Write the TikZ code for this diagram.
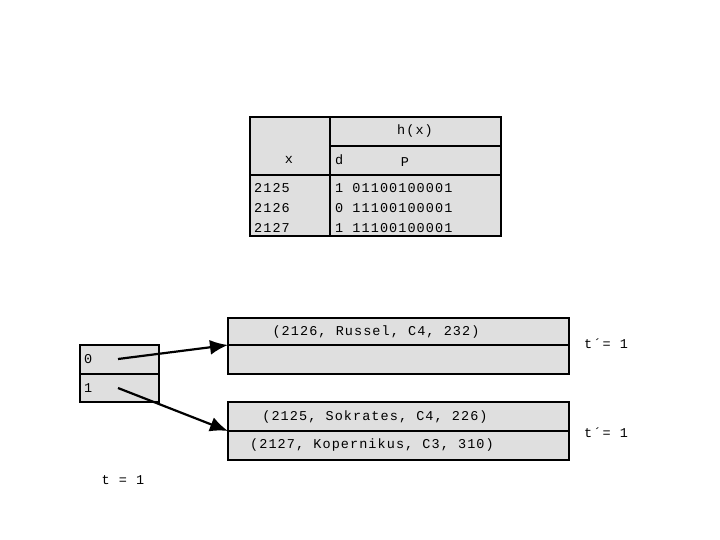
\documentclass[tikz,border=0pt]{standalone}
\usepackage{fontspec}
\newfontfamily\cour[LetterSpace=8]{Liberation Mono}
\usetikzlibrary{arrows.meta}
\begin{document}
\begin{tikzpicture}[x=1pt,y=-1pt,
  cell/.style={draw=black,line width=2.5pt,fill=gray!25},
  sep/.style={draw=black,line width=2.5pt},
  txt/.style={font=\cour\fontsize{13.5}{15}\selectfont,inner sep=0pt},
  ptr/.style={draw=black,line width=2.2pt,-{Latex[length=18pt,width=15pt]}}]
\useasboundingbox (0,0) rectangle (720,540);
% hash table
\path[cell] (250,117) rectangle (501,236);
\draw[sep] (330,117) -- (330,236);
\draw[sep] (330,146) -- (501,146);
\draw[sep] (250,175) -- (501,175);
\node[txt] (hx) at (415,131) {h(x)};
\node[txt] (xh) at (289,160) {x};
\node[txt,anchor=west] (dh) at (335,160) {d};
\node[txt] (ph) at (405,162) {P};
\node[txt,anchor=west] (k1) at (254,188) {2125};
\node[txt,anchor=west] (k2) at (254,208) {2126};
\node[txt,anchor=west] (k3) at (254,228) {2127};
\node[txt,anchor=west] (v1) at (335,188) {1 01100100001};
\node[txt,anchor=west] (v2) at (335,208) {0 11100100001};
\node[txt,anchor=west] (v3) at (335,228) {1 11100100001};
% directory
\path[cell] (80,345) rectangle (159,402);
\draw[sep] (80,374) -- (159,374);
\node[txt,anchor=west] (d0) at (84,359) {0};
\node[txt,anchor=west] (d1) at (84,388) {1};
\coordinate (p0) at (118,359);
\coordinate (p1) at (118,388);
% buckets
\path[cell] (228,318) rectangle (569,374);
\draw[sep] (228,345) -- (569,345);
\coordinate (b1) at (228,345);
\node[txt] (r1) at (376,332) {(2126, Russel, C4, 232)};
\path[cell] (228,402) rectangle (569,460);
\draw[sep] (228,431) -- (569,431);
\coordinate (b2) at (228,431);
\node[txt] (r2) at (375,417) {(2125, Sokrates, C4, 226)};
\node[txt] (r3) at (372,445) {(2127, Kopernikus, C3, 310)};
\node[txt,anchor=west] (t1) at (584,344) {t´= 1};
\node[txt,anchor=west] (t2) at (584,433) {t´= 1};
\node[txt] (t0) at (123,480) {t = 1};
% pointers
\draw[ptr] (p0) -- (b1);
\draw[ptr] (p1) -- (b2);
\end{tikzpicture}
\end{document}
